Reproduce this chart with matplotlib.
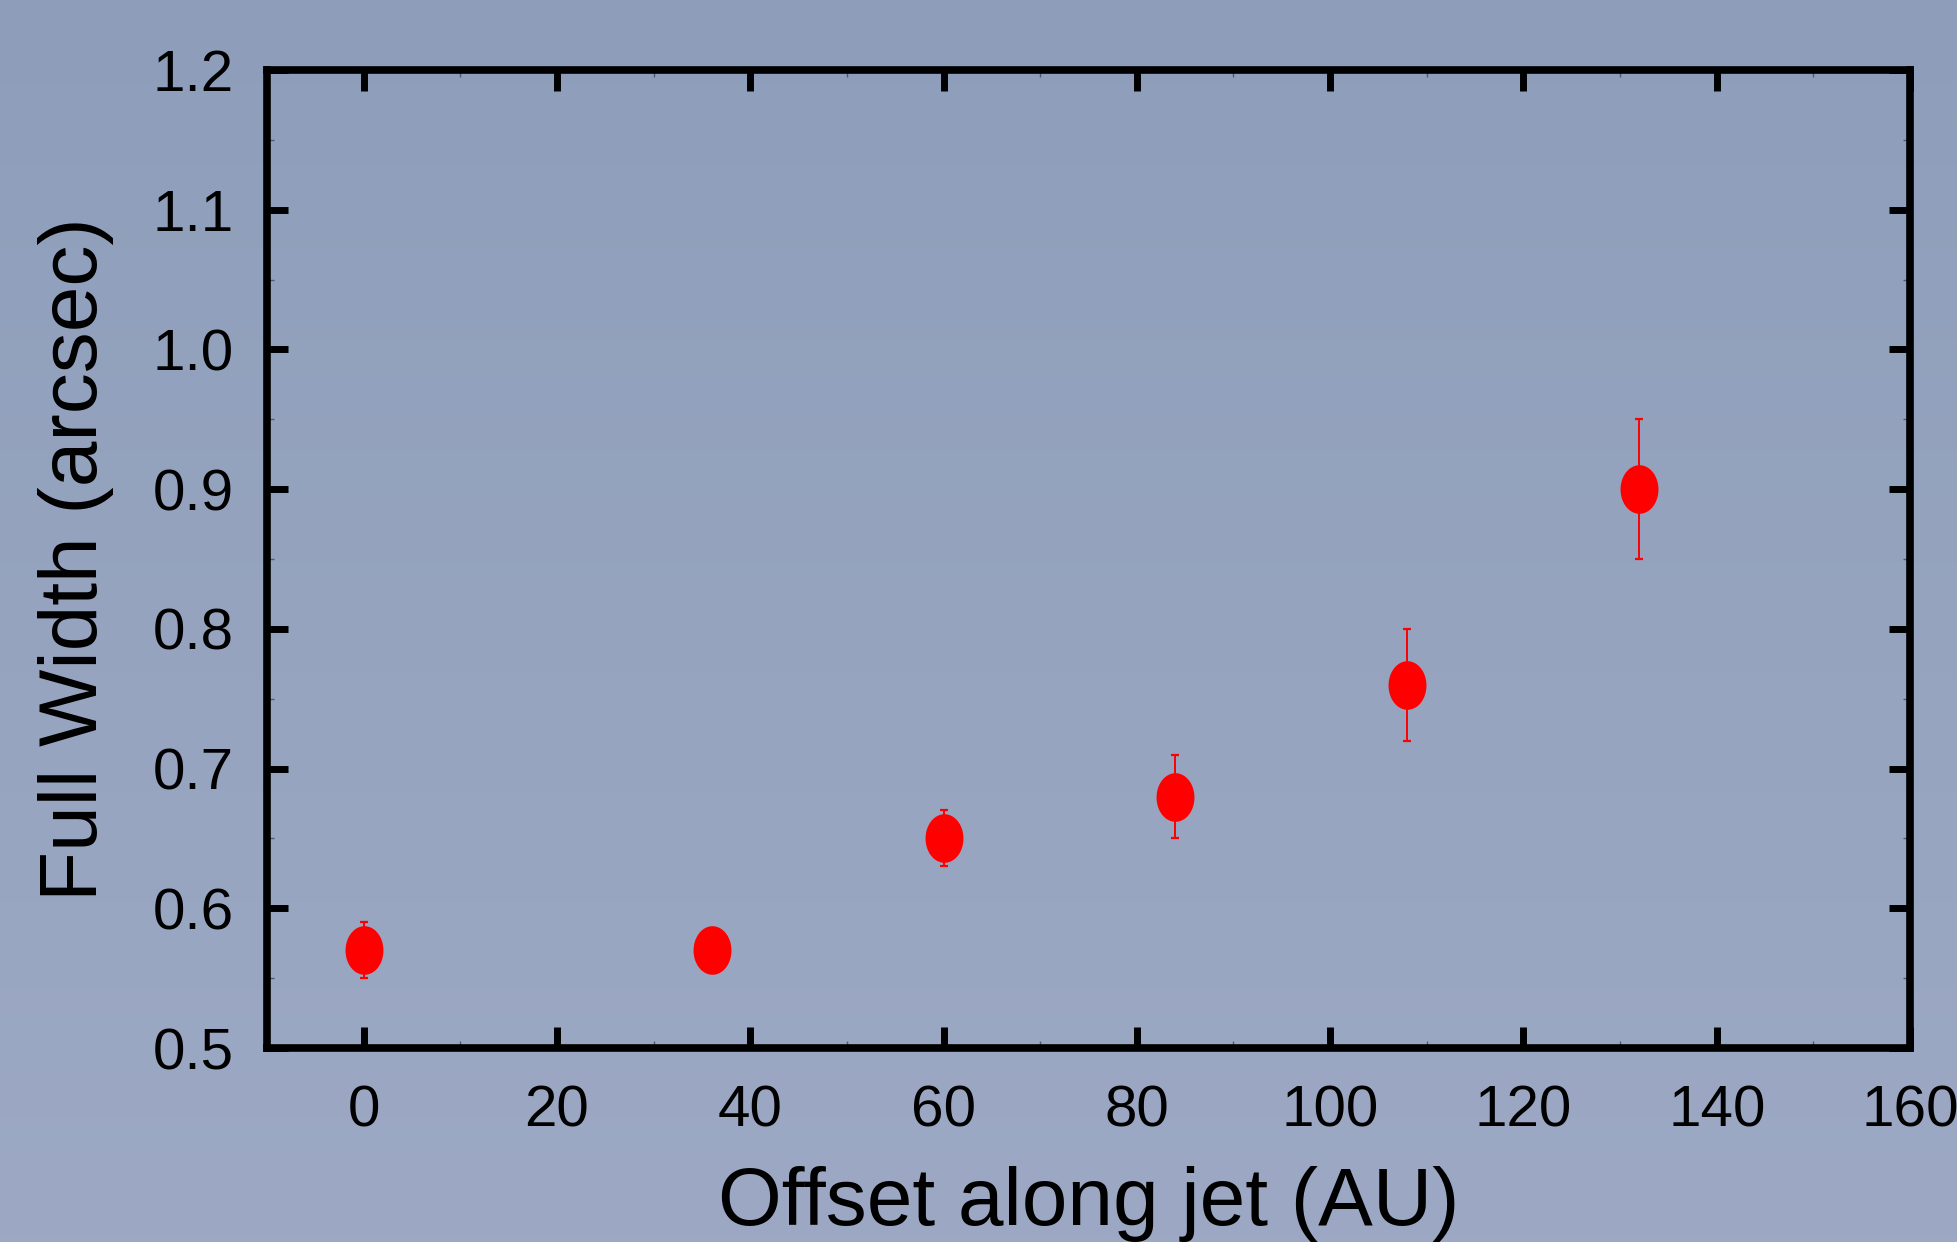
import numpy as np
import matplotlib
matplotlib.use("Agg")
import matplotlib.pyplot as plt
from matplotlib.path import Path
from matplotlib.ticker import MultipleLocator

# ---- data ----
offset_au = [0, 36, 60, 84, 108, 132]
full_width = [0.57, 0.57, 0.65, 0.68, 0.76, 0.90]
width_err = [0.02, 0.01, 0.02, 0.03, 0.04, 0.05]
x_ticks = [0, 20, 40, 60, 80, 100, 120, 140, 160]
y_ticks = [0.5, 0.6, 0.7, 0.8, 0.9, 1.0, 1.1, 1.2]

plt.rcParams['font.family'] = ['Liberation Sans', 'DejaVu Sans']

W, H, DPI = 1957, 1242, 100
fig = plt.figure(figsize=(W / DPI, H / DPI), dpi=DPI)

# background gradient
bg = fig.add_axes([0, 0, 1, 1], zorder=-10)
top = np.array([142, 158, 186]) / 255.0
bot = np.array([157, 169, 196]) / 255.0
t = np.linspace(0, 1, 256)[:, None]
grad = (top[None, :] * (1 - t) + bot[None, :] * t)[:, None, :]
bg.imshow(grad, aspect='auto', extent=[0, 1, 0, 1])
bg.set_axis_off()

ax = fig.add_axes([267 / W, 1 - 1048 / H, (1910 - 267) / W, (1048 - 70) / H])
ax.set_facecolor('none')

# elliptical marker (taller than wide)
th = np.linspace(0, 2 * np.pi, 60)
ell = Path(np.column_stack([0.78 * np.cos(th), np.sin(th)]), closed=True)

ax.errorbar(offset_au, full_width, yerr=width_err, fmt='none', ecolor='red',
            elinewidth=1.4, capsize=3, capthick=1.6, zorder=2)
ax.plot(offset_au, full_width, linestyle='none', marker=ell, markersize=35,
        color='red', markeredgewidth=0, zorder=3)

ax.set_xlim(-10, 160)
ax.set_ylim(0.5, 1.2)
ax.set_xticks(x_ticks)
ax.set_yticks(y_ticks)
ax.set_xticklabels([str(v) for v in x_ticks])
ax.set_yticklabels([f"{v:.1f}" for v in y_ticks])
ax.xaxis.set_minor_locator(MultipleLocator(10))
ax.yaxis.set_minor_locator(MultipleLocator(0.05))

for s in ax.spines.values():
    s.set_linewidth(5.5)
    s.set_color('black')

ax.tick_params(which='major', direction='in', length=15, width=5,
               top=True, right=True, labelsize=42, color='black')
ax.tick_params(axis='x', which='major', pad=26)
ax.tick_params(axis='y', which='major', pad=24)
ax.tick_params(which='minor', direction='in', length=5, width=1,
               top=True, right=True, color='#505a6a')

ax.set_xlabel('Offset along jet (AU)', fontsize=59, labelpad=20)
ax.set_ylabel('Full Width (arcsec)', fontsize=59, labelpad=28)

fig.savefig('out.png', dpi=DPI)
